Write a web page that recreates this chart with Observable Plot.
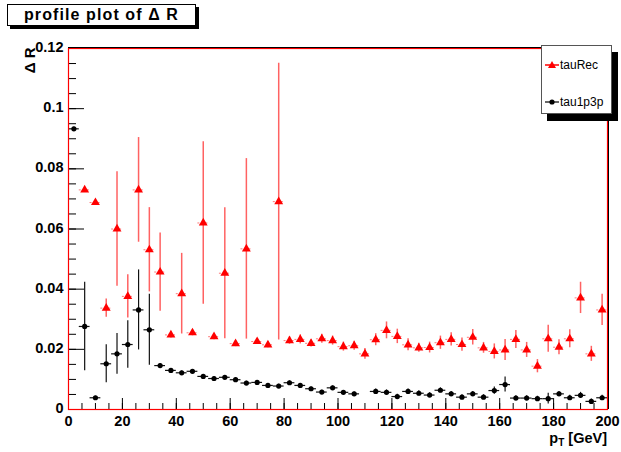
<!DOCTYPE html>
<html><head><meta charset="utf-8">
<script src="https://cdn.jsdelivr.net/npm/d3@7"></script>
<script src="https://cdn.jsdelivr.net/npm/@observablehq/plot@0.6"></script>
<style>
body{margin:0;background:#fff;font-family:"Liberation Sans",Arial,sans-serif;}
#wrap{position:relative;width:621px;height:452px;overflow:hidden;}
#title{position:absolute;left:7px;top:4px;width:187px;height:20px;border:1px solid #000;box-shadow:3px 3px 0 #000;background:#fff;font-weight:bold;font-size:16px;letter-spacing:1.1px;line-height:20px;text-align:center;color:#000;}
#legend{position:absolute;left:541px;top:45px;width:69px;height:67px;border:1px solid #555;box-shadow:6px 7px 0 #000;background:#fff;font-size:12px;color:#000;}
.lg{position:absolute;left:3px;height:14px;display:flex;align-items:center;}
.lg svg{margin-right:1px;}
</style>
</head><body>
<div id="wrap"><div id="chart"></div>
<div id="title">profile plot of Δ R</div>
<div id="legend">
  <div class="lg" style="top:12px"><svg width="14" height="10"><line x1="0" y1="5" x2="14" y2="5" stroke="red" stroke-width="1.5"/><path d="M7,1 L11,8 L3,8 Z" fill="red"/></svg>tauRec</div>
  <div class="lg" style="top:49px"><svg width="14" height="10"><line x1="0" y1="5" x2="14" y2="5" stroke="#000" stroke-width="1.2"/><circle cx="7" cy="5" r="2.6" fill="#000"/></svg>tau1p3p</div>
</div>
</div>
<script>
const pT = [2,6,10,14,18,22,26,30,34,38,42,46,50,54,58,62,66,70,74,78,82,86,90,94,98,102,106,110,114,118,122,126,130,134,138,142,146,150,154,158,162,166,170,174,178,182,186,190,194,198];
const tauRec = [null,0.0730,0.0688,0.0337,0.0600,0.0376,0.0730,0.0531,0.0457,0.0248,0.0385,0.0255,0.0620,0.0242,0.0453,0.0219,0.0534,0.0226,0.0215,0.0691,0.0229,0.0233,0.0220,0.0235,0.0229,0.0209,0.0212,0.0185,0.0232,0.0263,0.0243,0.0215,0.0205,0.0206,0.0222,0.0233,0.0216,0.0240,0.0205,0.0193,0.0198,0.0233,0.0198,0.0144,0.0235,0.0207,0.0235,0.0371,0.0185,0.0331];
const tauRecErr = [null,0.0008,0.0008,0.0030,0.0190,0.0072,0.0174,0.0140,0.0130,0.0010,0.0134,0.0010,0.0270,0.0010,0.0218,0.0010,0.0300,0.0010,0.0010,0.0460,0.0012,0.0015,0.0012,0.0015,0.0015,0.0015,0.0015,0.0018,0.0020,0.0028,0.0024,0.0020,0.0015,0.0018,0.0022,0.0022,0.0022,0.0026,0.0018,0.0025,0.0035,0.0030,0.0025,0.0022,0.0045,0.0025,0.0030,0.0052,0.0025,0.0052];
const tau1p3p = [0.0933,0.0276,0.0039,0.0152,0.0185,0.0216,0.0331,0.0265,0.0146,0.0130,0.0122,0.0127,0.0110,0.0103,0.0107,0.0099,0.0088,0.0090,0.0080,0.0078,0.0089,0.0080,0.0069,0.0058,0.0072,0.0057,0.0052,null,0.0060,0.0057,0.0043,0.0060,0.0054,0.0048,0.0064,0.0052,0.0041,0.0052,0.0041,0.0063,0.0083,0.0038,0.0038,0.0036,0.0036,0.0052,0.0039,0.0047,0.0027,0.0039];
const tau1p3pErr = [0.0005,0.0147,0.0005,0.0063,0.0068,0.0079,0.0133,0.0118,0.0006,0.0006,0.0006,0.0006,0.0006,0.0006,0.0006,0.0006,0.0006,0.0006,0.0006,0.0006,0.0006,0.0006,0.0006,0.0006,0.0006,0.0006,0.0006,null,0.0008,0.0008,0.0008,0.0008,0.0008,0.0008,0.0008,0.0008,0.0008,0.0008,0.0008,0.0012,0.0025,0.0008,0.0008,0.0008,0.0018,0.0008,0.0008,0.0010,0.0008,0.0008];
const binHalfWidth = 2;
const xTicks = [0,20,40,60,80,100,120,140,160,180,200];
const yTicks = [0,0.02,0.04,0.06,0.08,0.10,0.12];
const yTickLabels = ["0","0.02","0.04","0.06","0.08","0.1","0.12"];

const W = 621, H = 452, mL = 68, mR = 14, mT = 48, mB = 43;
const pw = W - mL - mR, ph = H - mT - mB;

const red = pT.map((x,i)=>({x, y: tauRec[i], e: tauRecErr[i]})).filter(d=>d.y!=null);
const blk = pT.map((x,i)=>({x, y: tau1p3p[i], e: tau1p3pErr[i]})).filter(d=>d.y!=null);
const xMinor = d3.range(0, 201, 5);
const yMinor = d3.range(0, 0.1201, 0.005);

const chart = Plot.plot({
  width: W, height: H, marginLeft: mL, marginRight: mR, marginTop: mT, marginBottom: mB,
  style: {fontFamily: '"Liberation Sans", Arial, sans-serif', fontSize: "14px", fontWeight: "bold", background: "#fff", color: "#000"},
  x: {domain: [0, 200]},
  y: {domain: [0, 0.12]},
  marks: [
    Plot.tickX(xMinor, {x: d=>d, insetTop: ph - 6, stroke: "#000", strokeWidth: 1}),
    Plot.tickX(xTicks, {x: d=>d, insetTop: ph - 11, stroke: "#000", strokeWidth: 1}),
    Plot.tickY(yMinor, {y: d=>d, insetRight: pw - 8, stroke: "#000", strokeWidth: 1}),
    Plot.tickY(yTicks, {y: d=>d, insetRight: pw - 16, stroke: "#000", strokeWidth: 1}),
    Plot.axisX(xTicks, {tickSize: 0, tickPadding: 6, label: null, tickFormat: d=>String(d), fontWeight: "bold", fontSize: 14.5}),
    Plot.axisY(yTicks, {tickSize: 0, tickPadding: 5, label: null, tickFormat: d=>yTickLabels[yTicks.indexOf(d)], fontWeight: "bold", fontSize: 14.5, dy: -1}),
    // tau1p3p
    Plot.ruleX(blk, {x: "x", y1: d=>d.y-d.e, y2: d=>d.y+d.e, stroke: "#111", strokeWidth: 1.2}),
    Plot.ruleY(blk, {y: "y", x1: d=>d.x-binHalfWidth, x2: d=>d.x+binHalfWidth, stroke: "#111", strokeWidth: 1.2}),
    Plot.dot(blk, {x: "x", y: "y", r: 2.6, fill: "#000", stroke: "none"}),
    // tauRec
    Plot.ruleX(red, {x: "x", y1: d=>d.y-d.e, y2: d=>d.y+d.e, stroke: "#ff2020", strokeOpacity: 0.7, strokeWidth: 1.5}),
    Plot.ruleY(red, {y: "y", x1: d=>d.x-binHalfWidth, x2: d=>d.x+binHalfWidth, stroke: "#ff4040", strokeDasharray: "2,2", strokeOpacity: 0.7}),
    Plot.dot(red, {x: "x", y: "y", symbol: "triangle", r: 3.3, fill: "red", stroke: "none"}),
    Plot.frame({stroke: "red", strokeWidth: 1.2}),
    Plot.ruleY([0.12], {stroke: "#000", dy: -1}),
    Plot.ruleX([200], {stroke: "#000", dx: 1}),
    Plot.text(["Δ R"], {frameAnchor: "top-left", dx: -44, dy: -1, rotate: -90, textAnchor: "end", fontSize: 15, fontWeight: "bold"})
  ]
});
document.getElementById("chart").appendChild(chart);
const svg = d3.select(chart);
const t = svg.append("text").attr("x", 607).attr("y", 443).attr("text-anchor", "end")
  .attr("font-size", 14.5).attr("font-weight", "bold").attr("fill", "#000");
t.append("tspan").text("p");
t.append("tspan").attr("font-size", 10).attr("dy", 3).text("T");
t.append("tspan").attr("dy", -3).text(" [GeV]");
</script>
</body></html>
